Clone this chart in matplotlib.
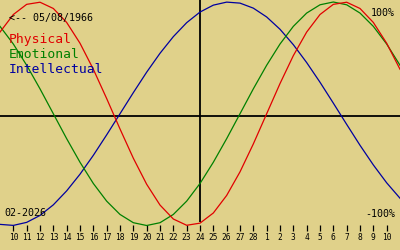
import matplotlib
matplotlib.use("Agg")
import matplotlib.pyplot as plt
import numpy as np

# Days shown (Feb 10 .. Mar 10, 2026), centred on Feb 24
tick_labels = ["10", "11", "12", "13", "14", "15", "16", "17", "18", "19",
               "20", "21", "22", "23", "24", "25", "26", "27", "28",
               "1", "2", "3", "4", "5", "6", "7", "8", "9", "10"]

# Curve values per day, from one day before the first tick to one day after the last
physical = [0.731, 0.888, 0.979, 0.998, 0.942, 0.817, 0.631, 0.398, 0.136, -0.136,
            -0.398, -0.631, -0.817, -0.942, -0.998, -0.979, -0.888, -0.731, -0.520, -0.270,
            0.0, 0.270, 0.520, 0.731, 0.888, 0.979, 0.998, 0.942, 0.817, 0.631, 0.398]
emotional = [0.782, 0.624, 0.434, 0.223, 0.0, -0.223, -0.434, -0.624, -0.782, -0.901,
             -0.975, -1.0, -0.975, -0.901, -0.782, -0.624, -0.434, -0.223, 0.0, 0.223,
             0.434, 0.624, 0.782, 0.901, 0.975, 1.0, 0.975, 0.901, 0.782, 0.624, 0.434]
intellectual = [-0.990, -0.999, -0.972, -0.910, -0.815, -0.690, -0.541, -0.372, -0.189, 0.0,
                0.189, 0.372, 0.541, 0.690, 0.815, 0.910, 0.972, 0.999, 0.990, 0.945,
                0.866, 0.756, 0.618, 0.458, 0.282, 0.095, -0.095, -0.282, -0.458, -0.618, -0.756]

series_names = ["Physical", "Emotional", "Intellectual"]
birth_label = "<-- 05/08/1966"
month_label = "02-2026"

BG = "#e0d18a"
RED = "#e00000"
GREEN = "#008000"
BLUE = "#0000a0"

W, H = 400, 250
fig = plt.figure(figsize=(4, 2.5), dpi=100, facecolor=BG)
ax = fig.add_axes([0, 0, 1, 1])
ax.set_facecolor(BG)
for s in ax.spines.values():
    s.set_visible(False)
ax.set_xticks([])
ax.set_yticks([])

x_curve = np.arange(-1, len(physical) - 1)
ax.set_xlim(-1, 29)

def v(ypix):
    return (113.75 - ypix) / 111.75

ax.set_ylim(v(H), v(0))

mono = "DejaVu Sans Mono"

# centre lines
ax.axhline(v(115.5), color="black", lw=1.3, zorder=2)
ax.vlines(14, v(222), v(0), color="black", lw=1.3, zorder=2)

# ticks
xt = np.arange(len(tick_labels))
ax.vlines(xt, v(231), v(225), color="black", lw=0.9, zorder=2)

ax.plot(x_curve, intellectual, color=BLUE, lw=0.9, zorder=3)
ax.plot(x_curve, emotional, color=GREEN, lw=0.9, zorder=3)
ax.plot(x_curve, physical, color=RED, lw=0.9, zorder=3)

def fx(xp):
    return xp / W

def fy(yp):
    return 1 - yp / H

for i, lab in enumerate(tick_labels):
    xp = 13.33 + 13.33 * i
    fig.text(fx(xp), fy(240.5), lab, ha="center", va="baseline",
             fontsize=5.7, family=mono, color="black")

fig.text(fx(9), fy(20.7), birth_label, ha="left", va="baseline",
         fontsize=7.2, family=mono, color="black")
for name, col, yb in zip(series_names, [RED, GREEN, BLUE], [43, 58, 73]):
    fig.text(fx(9), fy(yb), name, ha="left", va="baseline",
             fontsize=9.4, family=mono, color=col)

fig.text(fx(395), fy(16), "100%", ha="right", va="baseline",
         fontsize=7.2, family=mono, color="black")
fig.text(fx(395), fy(217), "-100%", ha="right", va="baseline",
         fontsize=7.2, family=mono, color="black")
fig.text(fx(4), fy(216), month_label, ha="left", va="baseline",
         fontsize=7.2, family=mono, color="black")

fig.savefig("out.png", dpi=100, facecolor=BG)
